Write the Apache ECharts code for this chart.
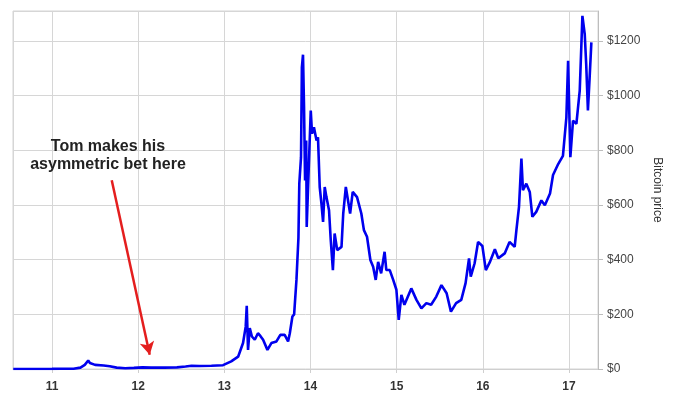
<!DOCTYPE html>
<html>
<head>
<meta charset="utf-8">
<script src="https://cdn.jsdelivr.net/npm/echarts@6/dist/echarts.min.js"></script>
<style>html,body{margin:0;padding:0;background:#fff}#c{width:680px;height:418px}</style>
</head>
<body>
<div id="c"></div>
<script>
// x = year (10 = 2010), y = bitcoin price in $
var years = [10.55,10.8,11.0,11.1,11.25,11.33,11.38,11.42,11.44,11.5,11.6,11.67,11.75,11.85,11.95,12.05,12.15,12.3,12.45,12.55,12.62,12.71,12.85,12.985,
13.08,13.16,13.217,13.248,13.26,13.275,13.295,13.32,13.353,13.39,13.42,13.45,13.50,13.546,13.605,13.65,13.70,13.74,13.76,13.79,13.81,13.837,13.86,13.87,13.89,13.9,13.913,13.925,13.937,13.95,13.956,13.98,
14.003,14.018,14.04,14.07,14.087,14.107,14.127,14.146,14.165,14.185,14.215,14.235,14.26,14.28,14.31,14.36,14.38,14.41,14.46,14.49,14.54,14.59,14.62,14.656,14.695,14.727,14.757,14.785,14.82,14.86,14.88,14.92,14.96,14.997,
15.024,15.055,15.09,15.17,15.23,15.287,15.345,15.40,15.46,15.52,15.58,15.63,15.69,15.75,15.80,15.84,15.86,15.905,15.945,15.995,
16.035,16.08,16.14,16.18,16.254,16.31,16.37,16.39,16.42,16.448,16.466,16.505,16.545,16.575,16.62,16.68,16.72,16.78,16.815,16.875,16.93,16.97,16.99,
17.016,17.047,17.086,17.125,17.156,17.183,17.20,17.22,17.24,17.26];
var prices = [0.1,0.2,0.3,1,1,5,15,31,22,15,13,10,5,3,4,6,5,5,6,9,12,11,12,14,
28,45,95,155,231,70,150,119,107,131,120,107,70,95,101,125,125,101,131,192,200,326,480,678,775,1104,1150,958,690,836,520,739,
946,861,885,836,848,666,605,538,666,629,581,472,362,496,435,447,569,666,569,648,629,569,508,484,399,374,326,392,350,429,362,362,326,290,
180,271,235,295,253,222,241,235,265,307,277,210,241,253,314,405,338,387,465,450,
362,390,438,405,423,465,447,508,593,770,654,678,648,557,575,617,599,642,710,750,780,921,1128,
775,909,897,1019,1292,1225,1116,946,1067,1195];
var annotationLines = ['Tom makes his', 'asymmetric bet here'];
var arrowFrom = [11.693, 691];
var arrowTo = [12.134, 52];
var yAxisTitle = 'Bitcoin price';

var series = years.map(function (x, i) { return [x, prices[i]]; });

var chart = echarts.init(document.getElementById('c'), null, {renderer: 'canvas'});
chart.setOption({
  animation: false,
  backgroundColor: '#fff',
  grid: {left: 13, right: 82, top: 11, bottom: 49, show: true, borderColor: '#d4d4d4', borderWidth: 1},
  xAxis: {
    type: 'value', min: 10.547, max: 17.337, splitNumber: 7,
    axisLine: {show: true, lineStyle: {color: '#cfcfcf'}},
    axisTick: {show: true, length: 4, lineStyle: {color: '#cfcfcf'}},
    axisLabel: {showMinLabel: false, showMaxLabel: false, fontFamily: 'Liberation Sans, Arial, sans-serif', fontWeight: 'bold', fontSize: 12, color: '#333', margin: 12,
      formatter: function (v) { return String(Math.round(v)); }},
    splitLine: {show: true, lineStyle: {color: '#d6d6d6', width: 1}}
  },
  yAxis: {
    type: 'value', position: 'right', min: 0, max: 1310, interval: 200,
    name: yAxisTitle, nameLocation: 'middle', nameRotate: -90, nameGap: 52,
    nameTextStyle: {fontFamily: 'Liberation Sans, Arial, sans-serif', fontSize: 12, color: '#333'},
    axisLine: {show: true, lineStyle: {color: '#bdbdbd'}},
    axisTick: {show: true, length: 5, lineStyle: {color: '#bdbdbd'}},
    axisLabel: {showMaxLabel: false, fontFamily: 'Liberation Sans, Arial, sans-serif', fontSize: 12, color: '#444', margin: 9,
      formatter: function (v) { return '$' + v; }},
    splitLine: {show: true, lineStyle: {color: '#d6d6d6', width: 1}}
  },
  series: [{
    type: 'line', data: series, showSymbol: false, symbol: 'none',
    lineStyle: {color: '#0000ee', width: 2.6}, itemStyle: {color: '#0000ee'},
    markLine: {
      silent: true, symbol: ['none', 'arrow'], symbolSize: [11, 13],
      label: {show: false},
      lineStyle: {color: '#e41e1e', width: 2.5, type: 'solid'},
      data: [[{coord: arrowFrom}, {coord: arrowTo}]]
    }
  }],
  graphic: [{
    type: 'text', x: 108, y: 156, z: 100,
    style: {text: annotationLines.join('\n'), fontFamily: 'Liberation Sans, Arial, sans-serif', fontWeight: 'bold', fontSize: 16, lineHeight: 18, fill: '#222', align: 'center', verticalAlign: 'middle'}
  }]
});
</script>
</body>
</html>
